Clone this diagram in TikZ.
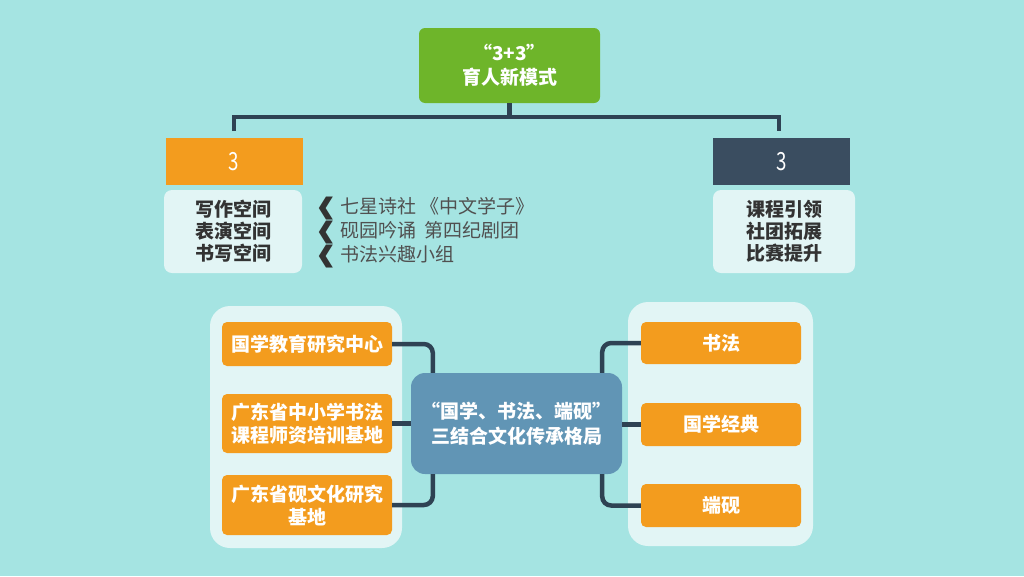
\documentclass[tikz,border=0pt]{standalone}
\usepackage{fontspec}
\setmainfont{Noto Sans CJK SC}
\newfontfamily\dingfont{DejaVu Sans}
\usetikzlibrary{positioning}
\definecolor{bgcol}{RGB}{165,228,226}
\definecolor{leafgreen}{RGB}{110,181,42}
\definecolor{tangerine}{RGB}{243,156,30}
\definecolor{slate}{RGB}{58,77,96}
\definecolor{pale}{RGB}{226,245,245}
\definecolor{steel}{RGB}{97,149,181}
\definecolor{wire}{RGB}{46,66,83}
\definecolor{ink}{RGB}{51,51,51}
\definecolor{greyink}{RGB}{80,80,80}
\newcommand{\chev}{{\dingfont\bfseries\color{ink}\fontsize{23}{23}\selectfont\raisebox{-1pt}{\scalebox{1.25}[1]{❰}}}\hspace{2pt}}

\begin{document}
\begin{tikzpicture}[x=1pt,y=-1pt,
  every node/.style={inner sep=0pt,align=center,font=\fontsize{19}{23}\selectfont},
  greenbox/.style={fill=leafgreen,rounded corners=6pt,text=white,font=\bfseries\fontsize{19}{24}\selectfont,minimum width=181pt,minimum height=75pt},
  numbox/.style={text=white,minimum width=137pt,minimum height=47pt,font=\fontsize{25}{25}\selectfont},
  listbox/.style={fill=pale,rounded corners=8pt,text=ink,font=\bfseries\fontsize{19}{22}\selectfont,minimum height=83pt},
  panel/.style={fill=pale,rounded corners=20pt},
  obox/.style={fill=tangerine,rounded corners=5pt,text=white,font=\bfseries\fontsize{19}{23}\selectfont},
  hubbox/.style={fill=steel,rounded corners=14pt,text=white,font=\bfseries\fontsize{19}{25}\selectfont,minimum width=211pt,minimum height=101pt},
  link/.style={draw=wire,line width=4.5pt}]
  \fill[bgcol] (0,0) rectangle (1024,576);

  \node[greenbox] (mode) at (509.5,65.5) {“3+3”\\育人新模式};
  \node[numbox,fill=tangerine] (lnum) at (234,161.5) {\scalebox{0.75}[1]{3}};
  \node[numbox,fill=slate] (rnum) at (781.5,161.5) {\scalebox{0.75}[1]{3}};
  \node[listbox,minimum width=138pt] (lspace) at (233,231.5) {写作空间\\表演空间\\书写空间};
  \node[listbox,minimum width=142pt] (rcourse) at (784,231.5) {课程引领\\社团拓展\\比赛提升};
  \node[anchor=west,align=left,text=greyink,font=\fontsize{19}{22}\selectfont] (clubs) at (314,233)
    {\chev 七星诗社 《中文学子》\\\chev 砚园吟诵\ \ 第四纪剧团\\\chev 书法兴趣小组};

  \coordinate (lend) at (234,131);
  \coordinate (rend) at (779,131);
  \draw[link] (mode.south) -- (mode.south |- 0,117);
  \draw[link] (lend) -- (234,117) -- (779,117) -- (rend);

  \node[panel,minimum width=192pt,minimum height=242pt] (lpanel) at (306,427) {};
  \node[panel,minimum width=185pt,minimum height=244pt] (rpanel) at (720.5,424) {};

  \node[obox,minimum width=170pt,minimum height=44pt] (base1) at (307,344) {国学教育研究中心};
  \node[obox,minimum width=170pt,minimum height=59pt] (base2) at (307,423.5) {广东省中小学书法\\课程师资培训基地};
  \node[obox,minimum width=170pt,minimum height=60pt] (base3) at (307,505) {广东省砚文化研究\\基地};
  \node[obox,minimum width=160pt,minimum height=42pt] (art1) at (721,343) {书法};
  \node[obox,minimum width=160pt,minimum height=43pt] (art2) at (721,424.5) {国学经典};
  \node[obox,minimum width=160pt,minimum height=43pt] (art3) at (721,505.5) {端砚};

  \node[hubbox] (hub) at (516.5,423.5) {“国学、书法、端砚”\\三结合文化传承格局};

  \draw[link,rounded corners=9pt] (base1.east) -| ([xshift=22pt]hub.north west);
  \draw[link] (base2.east) -- (base2.east -| hub.west);
  \draw[link,rounded corners=9pt] (base3.east) -| ([xshift=22pt]hub.south west);
  \draw[link,rounded corners=9pt] (art1.west) -| ([xshift=-20pt]hub.north east);
  \draw[link] (art2.west) -- (art2.west -| hub.east);
  \draw[link,rounded corners=9pt] (art3.west) -| ([xshift=-20pt]hub.south east);
\end{tikzpicture}
\end{document}
